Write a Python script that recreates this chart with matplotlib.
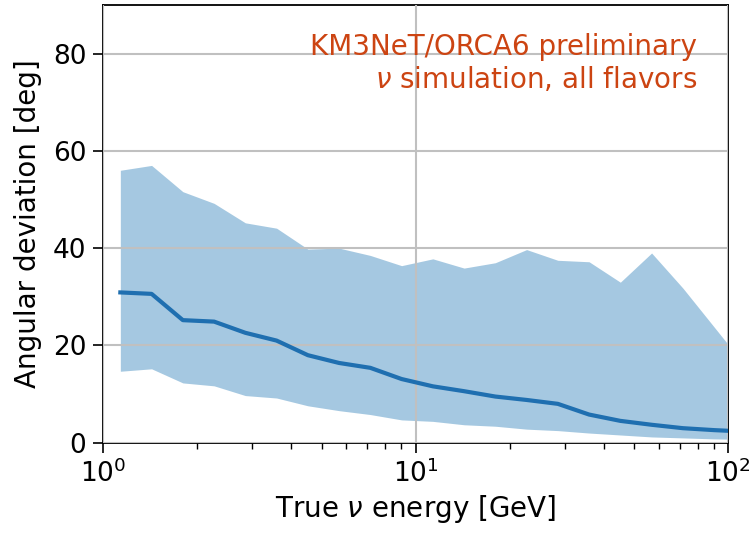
import numpy as np
import matplotlib
matplotlib.use('Agg')
import matplotlib.pyplot as plt

# Bin centres in true energy [GeV]
energy = [1.135, 1.429, 1.799, 2.265, 2.851, 3.589, 4.519, 5.689, 7.161, 9.016,
          11.35, 14.29, 17.99, 22.65, 28.51, 35.89, 45.19, 56.89, 71.61, 90.16, 113.5]

# Angular deviation [deg]: median and band
median = [30.9, 30.6, 25.2, 24.9, 22.6, 21.0, 18.0, 16.4, 15.4, 13.1,
          11.6, 10.6, 9.5, 8.8, 8.0, 5.8, 4.5, 3.7, 3.0, 2.6, 2.3]
upper = [56.0, 57.0, 51.6, 49.2, 45.2, 44.1, 39.8, 40.0, 38.5, 36.4,
         37.8, 35.9, 37.0, 39.7, 37.5, 37.2, 33.0, 39.0, 31.8, 23.8, 15.8]
lower = [14.7, 15.2, 12.3, 11.7, 9.7, 9.2, 7.6, 6.6, 5.8, 4.7,
         4.4, 3.7, 3.4, 2.8, 2.5, 2.0, 1.6, 1.2, 1.0, 0.8, 0.7]

fig = plt.figure(figsize=(7.53, 5.38), dpi=100)
ax = fig.add_axes([0.137, 0.177, 0.830, 0.814])

ax.fill_between(energy, lower, upper, color='#1f77b4', alpha=0.4, linewidth=0, zorder=1)
ax.plot(energy, median, color='#1f6fb0', linewidth=3, zorder=3)

ax.set_xscale('log')
ax.set_xlim(1, 100)
ax.set_ylim(0, 90)
ax.set_yticks([0, 20, 40, 60, 80])
ax.grid(True, which='major', color='#c0c0c0', linewidth=1.5, zorder=2)
ax.set_axisbelow(False)

for s in ax.spines.values():
    s.set_linewidth(1.3)
ax.tick_params(which='major', labelsize=19, length=7, width=1.2, pad=5)
ax.tick_params(which='minor', length=4, width=1.0)
ax.set_xlabel(r'True $\nu$ energy [GeV]', fontsize=20)
ax.set_ylabel('Angular deviation [deg]', fontsize=20, labelpad=8)

ax.text(0.95, 0.935, 'KM3NeT/ORCA6 preliminary\n' + r'$\nu$ simulation, all flavors',
        transform=ax.transAxes, ha='right', va='top', fontsize=20,
        color='#cc4412', linespacing=1.15)

fig.savefig('out.png', dpi=100)
